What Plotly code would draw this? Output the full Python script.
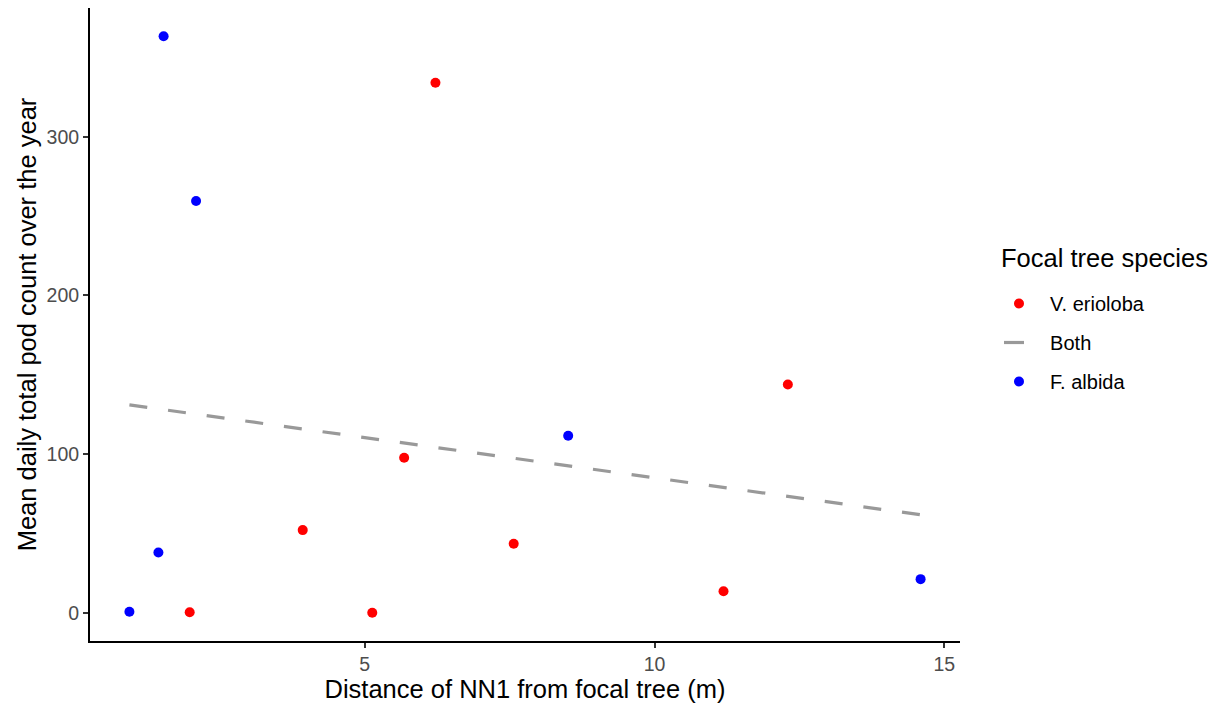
import numpy as np
import plotly.graph_objects as go

# Data
species_labels = ["V. erioloba", "Both", "F. albida"]
legend_title = "Focal tree species"
ve_distance = [6.22, 5.68, 3.93, 7.57, 1.98, 5.13, 11.19, 12.30]
ve_pods = [334.1, 97.7, 52.1, 43.5, 0.3, 0.0, 13.6, 143.9]
fa_distance = [1.53, 2.09, 1.44, 0.94, 8.51, 14.59]
fa_pods = [363.4, 259.5, 38.0, 0.6, 111.6, 21.2]
x_ticks = [5, 10, 15]
y_ticks = [0, 100, 200, 300]

# Linear fit over both species (as geom_smooth(method="lm"))
all_x = np.array(ve_distance + fa_distance)
all_y = np.array(ve_pods + fa_pods)
slope, intercept = np.polyfit(all_x, all_y, 1)
fit_x = np.array([all_x.min(), all_x.max()])
fit_y = intercept + slope * fit_x

FONT = "Liberation Sans, Arial, sans-serif"
PAD = "\u00a0\u00a0"

fig = go.Figure()
fig.add_trace(go.Scatter(
    x=ve_distance, y=ve_pods, mode="markers", name=PAD + species_labels[0],
    legendgroup="a",
    marker=dict(color="#FF0000", size=10, line=dict(width=0)),
))
# fitted line (plot only)
fig.add_trace(go.Scatter(
    x=fit_x, y=fit_y, mode="lines", name=species_labels[1],
    legendgroup="b", showlegend=False,
    line=dict(color="#999999", width=3.2, dash="18px,21px"),
))
# legend key for the fitted line
fig.add_trace(go.Scatter(
    x=[None], y=[None], mode="lines", name=PAD + species_labels[1],
    legendgroup="b", showlegend=True, hoverinfo="skip",
    line=dict(color="#999999", width=3.2, dash="20px,60px"),
))
fig.add_trace(go.Scatter(
    x=fa_distance, y=fa_pods, mode="markers", name=PAD + species_labels[2],
    legendgroup="c",
    marker=dict(color="#0000FF", size=10, line=dict(width=0)),
))

fig.add_annotation(
    text=legend_title, xref="paper", yref="paper",
    x=(999 - 90) / 870, xanchor="left",
    y=(704 - 63 - 258) / 633, yanchor="middle",
    showarrow=False, font=dict(size=25.5, color="black", family=FONT),
)

fig.update_layout(
    width=1215, height=704,
    margin=dict(l=90, r=255, t=8, b=63),
    paper_bgcolor="white", plot_bgcolor="white",
    font=dict(family=FONT, color="black"),
    legend=dict(
        font=dict(size=20, color="black"),
        x=(999 - 90) / 870, xanchor="left",
        y=(704 - 63 - 284) / 633, yanchor="top",
        tracegroupgap=10, itemwidth=30,
        bgcolor="rgba(0,0,0,0)",
    ),
    xaxis=dict(
        range=[0.26, 15.27], tickvals=x_ticks, ticktext=[str(v) for v in x_ticks],
        showgrid=False, zeroline=False,
        showline=True, linecolor="black", linewidth=2,
        ticks="outside", ticklen=5, tickwidth=1.5, tickcolor="#333333",
        tickfont=dict(size=19.5, color="#4d4d4d"),
        title=dict(text="Distance of NN1 from focal tree (m)", font=dict(size=25.5, color="black"), standoff=0),
    ),
    yaxis=dict(
        range=[-17.8, 381.2], tickvals=y_ticks, ticktext=[str(v) for v in y_ticks],
        showgrid=False, zeroline=False,
        showline=True, linecolor="black", linewidth=2,
        ticks="outside", ticklen=5, tickwidth=1.5, tickcolor="#333333",
        tickfont=dict(size=19.5, color="#4d4d4d"),
        title=dict(text="Mean daily total pod count over the year", font=dict(size=25.5, color="black"), standoff=3),
    ),
)

fig.write_html("out.html")
